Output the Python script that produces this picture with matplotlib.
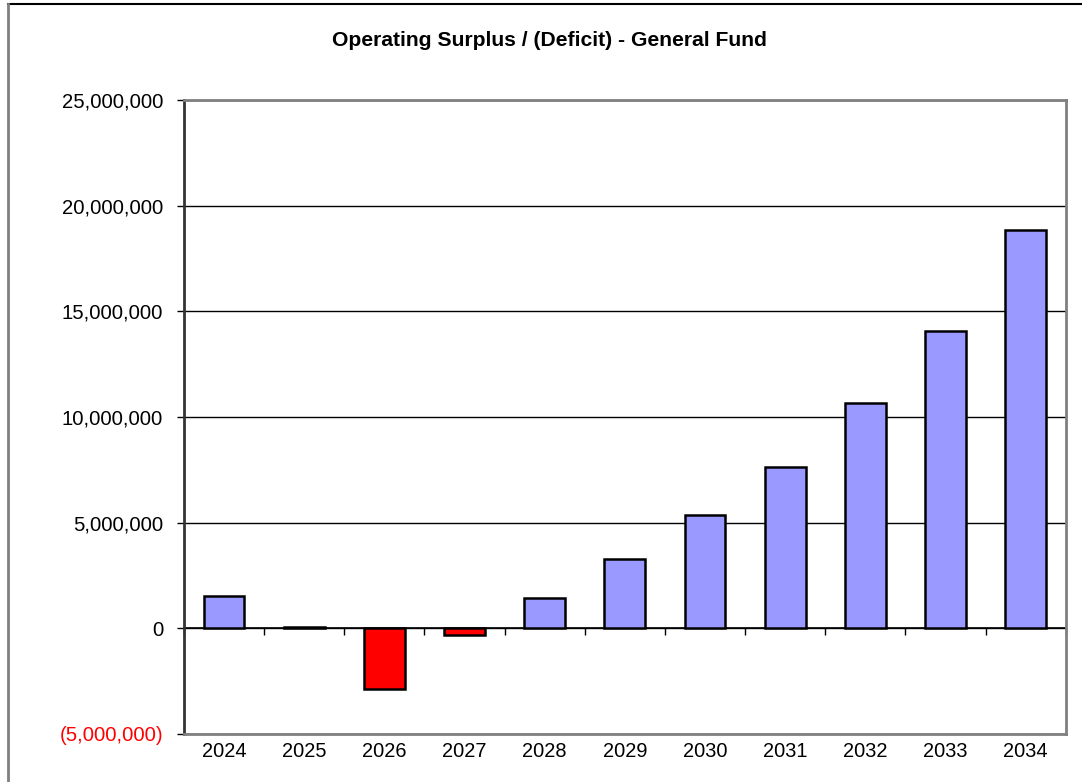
import matplotlib
matplotlib.use("Agg")
import matplotlib.pyplot as plt
from matplotlib.ticker import FuncFormatter
from matplotlib.lines import Line2D

years = ["2024", "2025", "2026", "2027", "2028", "2029", "2030", "2031", "2032", "2033", "2034"]
surplus = [1510000, 50000, -2880000, -330000, 1420000, 3300000, 5380000, 7640000, 10660000, 14060000, 18870000]
title = "Operating Surplus / (Deficit) - General Fund"

POS_COLOR = "#9999FF"
NEG_COLOR = "#FF0000"

plt.rcParams['font.family'] = ['Liberation Sans', 'DejaVu Sans']

fig = plt.figure(figsize=(10.82, 7.82), dpi=100)
ax = fig.add_axes([0.170, 0.0614, 0.815, 0.8107])

x = list(range(len(years)))
colors = [POS_COLOR if v >= 0 else NEG_COLOR for v in surplus]
ax.bar(x, surplus, width=0.51, color=colors, edgecolor="black", linewidth=1.8, zorder=3)

ax.set_xlim(-0.5, len(years) - 0.5)
ax.set_ylim(-5000000, 25000000)
ax.set_yticks(range(-5000000, 25000001, 5000000))

def fmt(v, pos):
    if v < 0:
        return "({:,.0f})".format(-v)
    return "{:,.0f}".format(v)

ax.yaxis.set_major_formatter(FuncFormatter(fmt))
for lbl, val in zip(ax.get_yticklabels(), ax.get_yticks()):
    if val < 0:
        lbl.set_color(NEG_COLOR)

ax.yaxis.grid(True, color="black", linewidth=1.0, zorder=0)
ax.set_axisbelow(True)
ax.tick_params(axis="y", labelsize=14.6, length=5, width=1, pad=10, direction="out")

ax.set_xticks(x)
ax.set_xticklabels(years)
ax.tick_params(axis="x", labelsize=14.4, length=0, pad=6)

for side in ["top", "right", "bottom"]:
    ax.spines[side].set_color("#808080")
    ax.spines[side].set_linewidth(2)
ax.spines["left"].set_color("#333333")
ax.spines["left"].set_linewidth(2)

# zero axis with category boundary ticks
sec = ax.secondary_xaxis(0, transform=ax.transData)
sec.set_xticks([i - 0.5 for i in range(len(years) + 1)])
sec.set_xticklabels([])
sec.tick_params(axis="x", length=5, width=1, direction="out", colors="black")
sec.spines["bottom"].set_color("black")
sec.spines["bottom"].set_linewidth(1.2)

fig.text(0.5075, 0.948, title, ha="center", va="center", fontsize=15.2, fontweight="bold")

# outer chart border (partially cropped)
fig.add_artist(Line2D([8/1082, 1.0], [1 - 4/782, 1 - 4/782], color="black", linewidth=1.5, transform=fig.transFigure))
fig.add_artist(Line2D([8/1082, 8/1082], [0, 1 - 4/782], color="#808080", linewidth=2, transform=fig.transFigure))

fig.savefig("out.png", dpi=100)
